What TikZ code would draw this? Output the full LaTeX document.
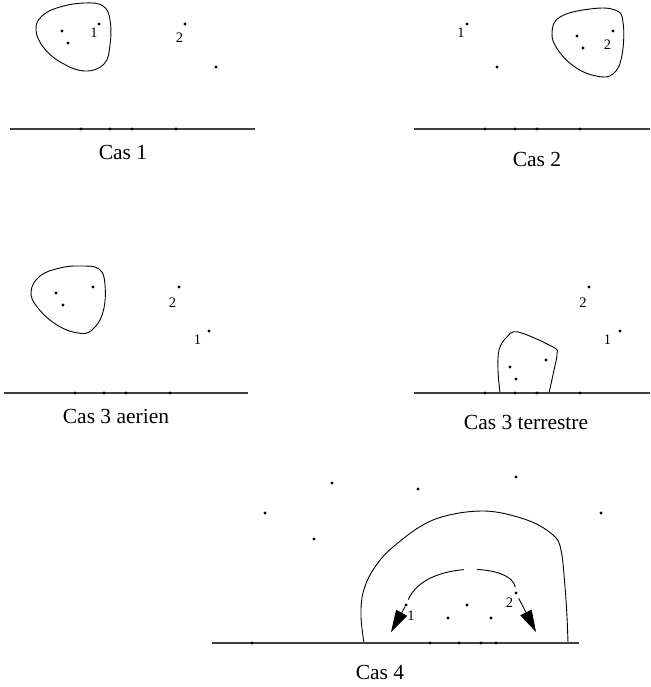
\documentclass[tikz,border=0pt]{standalone}
\usepackage{fontspec}
\setmainfont{Liberation Serif}
\usetikzlibrary{arrows.meta}
\begin{document}
\begin{tikzpicture}[
    x=1pt, y=-1pt,
    dot/.style={circle, fill, inner sep=0pt, minimum size=3.4pt},
    num/.style={anchor=base, inner sep=0pt, font=\fontsize{14.5}{16}\selectfont},
    cas/.style={anchor=base, inner sep=0pt, font=\fontsize{21.5}{24}\selectfont},
    sol/.style={draw, line width=1.1pt, black!75},
    bord/.style={draw, line width=0.9pt},
    fleche/.style={bord, -{Triangle[length=22pt, width=12.5pt]}}
  ]
    \useasboundingbox (0,0) rectangle (650,687);
    % Cas 1
    \draw[bord] plot[smooth cycle, tension=0.7] coordinates {(36,30) (42,16) (60,7) (85,3) (103,6) (110,20) (110,45) (104,64) (85,71) (62,63) (44,48)};
    \node[dot] (a1) at (62,31) {};
    \node[dot] (a2) at (68,43) {};
    \node[dot] (a3) at (99,24) {};
    \node[num] at (94,38) {1};
    \node[dot] (a4) at (185,24) {};
    \node[num] at (179.5,43) {2};
    \node[dot] (a5) at (216,67) {};
    \draw[sol] (10,129) -- (255,129);
    \foreach \x in {81,110,132,176} \node[dot] at (\x,129) {};
    \node[cas] at (123,160) {Cas 1};
    % Cas 2
    \draw[bord] plot[smooth cycle, tension=0.7] coordinates {(552,33) (560,17) (590,9) (615,10) (623,22) (622,55) (613,74) (596,76) (575,67) (558,50)};
    \node[dot] (b1) at (577,36) {};
    \node[dot] (b2) at (583,48) {};
    \node[dot] (b3) at (613,31) {};
    \node[num] at (607.5,50) {2};
    \node[dot] (b4) at (467,24) {};
    \node[num] at (461,38) {1};
    \node[dot] (b5) at (497,67) {};
    \draw[sol] (414,129) -- (650,129);
    \foreach \x in {485,515,537,580} \node[dot] at (\x,129) {};
    \node[cas] at (537,167) {Cas 2};
    % Cas 3 aerien
    \draw[bord] plot[smooth cycle, tension=0.7] coordinates {(31,292) (40,276) (60,268) (80,266) (99,269) (105,285) (103,312) (92,330) (78,333) (57,325) (38,308)};
    \node[dot] (c1) at (56,293) {};
    \node[dot] (c2) at (63,305) {};
    \node[dot] (c3) at (93,287) {};
    \node[dot] (c4) at (179,287) {};
    \node[num] at (172.5,307) {2};
    \node[dot] (c5) at (209,331) {};
    \node[num] at (197.5,344) {1};
    \draw[sol] (4,393) -- (248,393);
    \foreach \x in {75,104,126,170} \node[dot] at (\x,393) {};
    \node[cas] at (116,423) {Cas 3 aerien};
    % Cas 3 terrestre
    \draw[bord] plot[smooth, tension=0.6] coordinates {(500,393) (498,370) (499,350) (506,338) (518,332) (553,347) (557,354) (554,370) (549,393)};
    \node[dot] (d1) at (510,367) {};
    \node[dot] (d2) at (516,379) {};
    \node[dot] (d3) at (546,360) {};
    \node[dot] (d4) at (589,287) {};
    \node[num] at (583,307) {2};
    \node[dot] (d5) at (620,331) {};
    \node[num] at (607.5,344) {1};
    \draw[sol] (414,393) -- (650,393);
    \foreach \x in {485,515,537,580} \node[dot] at (\x,393) {};
    \node[cas] at (526,429) {Cas 3 terrestre};
    % Cas 4
    \foreach \p in {(332,483),(418,489),(516,477),(265,513),(601,513),(314,539)}
      \node[dot] at \p {};
    \draw[bord] plot[smooth, tension=0.6] coordinates {(364,643) (361,617) (363,593) (373,570) (393,547) (433,520) (483,511) (527,520) (553,535) (561,550) (565,587) (567,617) (568,643)};
    \node[dot] (p1) at (406,605) {};
    \node[dot] (p2) at (516,593) {};
    \node[dot] (e1) at (467,605) {};
    \node[dot] (e2) at (448,618) {};
    \node[dot] (e3) at (491,618) {};
    \node[num] at (411,620) {1};
    \node[num] at (509.5,607) {2};
    \coordinate (t1) at (391,632);
    \coordinate (t2) at (536,632);
    \draw[bord, dash pattern=on 45pt off 13pt on 400pt, shorten <=4pt, shorten >=4pt]
      (p2) .. controls (512,563) and (425,560) .. (p1);
    \draw[fleche] (p1) -- (t1);
    \draw[fleche, shorten <=4pt] (p2) -- (t2);
    \draw[sol] (212,643) -- (579,643);
    \foreach \x in {252,430,459,481,496} \node[dot] at (\x,643) {};
    \node[cas] at (380,679) {Cas 4};
  \end{tikzpicture}
\end{document}
